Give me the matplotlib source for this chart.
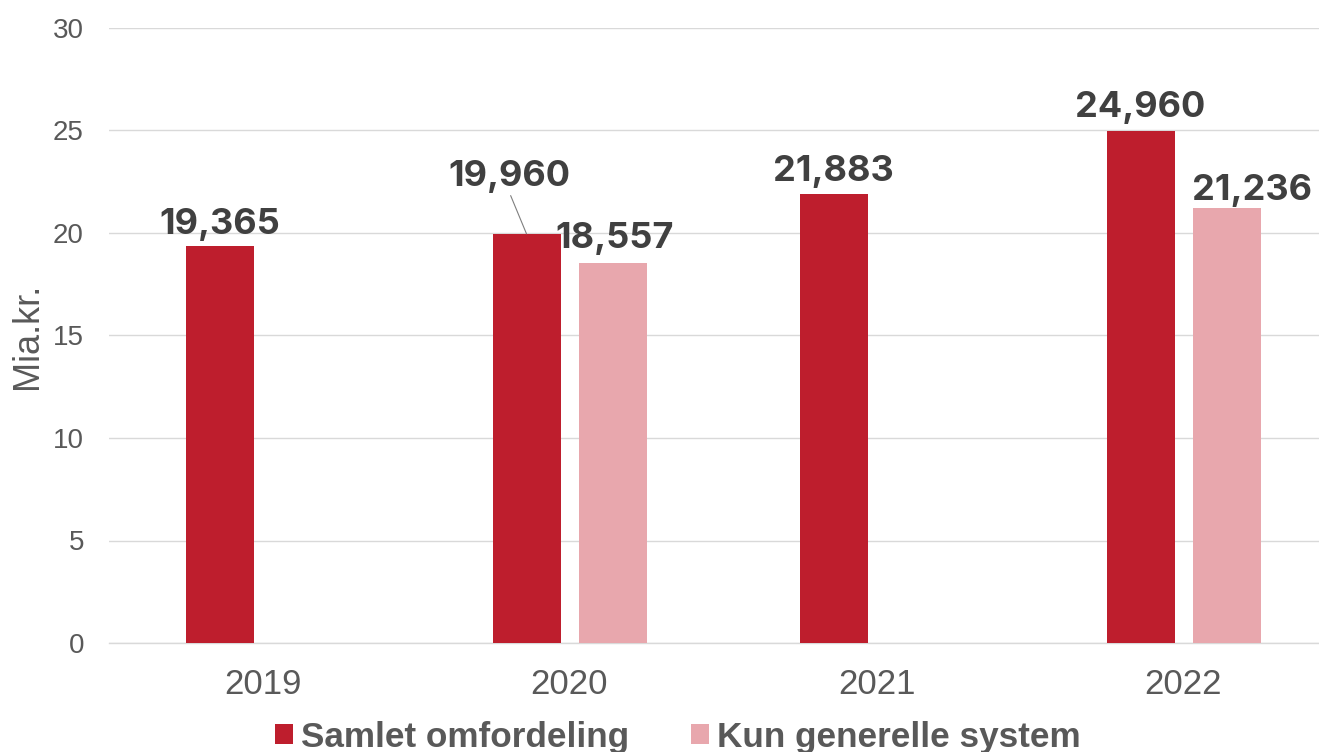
import matplotlib
matplotlib.use("Agg")
import matplotlib.pyplot as plt
import numpy as np

years = ["2019", "2020", "2021", "2022"]
samlet = [19.365, 19.960, 21.883, 24.960]
generelle = [None, 18.557, None, 21.236]
series_names = ["Samlet omfordeling", "Kun generelle system"]
yticks = [0, 5, 10, 15, 20, 25, 30]
ylabel = "Mia.kr."

RED = "#BE1E2D"
PINK = "#E8A7AD"
GRID = "#D9D9D9"
TXT = "#595959"
LBL = "#404040"

fig = plt.figure(figsize=(13.19, 7.52), dpi=100)
AX_W = 1228
ax = fig.add_axes([109/1319, 1-643/752, AX_W/1319, (643-28)/752])

x = np.arange(len(years))
cat = AX_W / 4
bw = 68/cat
off = (68+18)/2/cat

xs_r = x - off
bars_r = ax.bar(xs_r, samlet, width=bw, color=RED, label=series_names[0], zorder=3)
gx = [xi + off for xi, v in zip(x, generelle) if v is not None]
gv = [v for v in generelle if v is not None]
bars_p = ax.bar(gx, gv, width=bw, color=PINK, label=series_names[1], zorder=3)

def fmt(v):
    return f"{v:.3f}".replace(".", ",")

lab_font = dict(family=["Inter", "DejaVu Sans"], fontsize=26, fontweight="bold", color=LBL)

# label offsets in pixels (dx, dy) relative to bar top center
r_offsets = [(0, 12), (-17, 48), (0, 13), (0, 14)]
for xi, v, (dx, dy) in zip(xs_r, samlet, r_offsets):
    if dy > 30:
        ax.annotate(fmt(v), xy=(xi, v), xytext=(dx, dy), textcoords="offset pixels",
                    ha="center", va="baseline", zorder=5,
                    arrowprops=dict(arrowstyle="-", color="#7F7F7F", lw=0.8,
                                    shrinkA=0, shrinkB=0, relpos=(0.5, 0.0)), **lab_font)
    else:
        ax.annotate(fmt(v), xy=(xi, v), xytext=(dx, dy), textcoords="offset pixels",
                    ha="center", va="baseline", zorder=5, **lab_font)

p_offsets = [(2, 15), (25, 8)]
for xi, v, (dx, dy) in zip(gx, gv, p_offsets):
    ax.annotate(fmt(v), xy=(xi, v), xytext=(dx, dy), textcoords="offset pixels",
                ha="center", va="baseline", zorder=5, **lab_font)

ax.set_xlim(-0.5, 3.5)
ax.set_ylim(0, 30)
ax.set_yticks(yticks)
ax.set_xticks(x)
ax.set_xticklabels(years)
for lab in ax.get_xticklabels():
    lab.set_fontfamily(["Liberation Sans", "DejaVu Sans"])
    lab.set_fontsize(25)
    lab.set_color(TXT)
for lab in ax.get_yticklabels():
    lab.set_fontfamily(["Liberation Sans", "DejaVu Sans"])
    lab.set_fontsize(20)
    lab.set_color(TXT)
ax.tick_params(axis="both", length=0)
ax.tick_params(axis="y", pad=18)
ax.tick_params(axis="x", pad=18)
ax.grid(axis="y", color=GRID, lw=1, zorder=0)
for s in ["top", "right", "left"]:
    ax.spines[s].set_visible(False)
ax.spines["bottom"].set_color(GRID)
ax.spines["bottom"].set_linewidth(1)
ax.set_ylabel(ylabel, fontsize=26, color=TXT, family=["Liberation Sans", "DejaVu Sans"],
              va="center")
ax.yaxis.set_label_coords(-(109-28)/AX_W, (643-336)/615)

leg = fig.legend(handles=[bars_r, bars_p], labels=series_names, loc="center left",
                 bbox_to_anchor=(275/1319, 1-737/752), ncol=2, frameon=False, borderpad=0,
                 borderaxespad=0,
                 prop=dict(family=["Liberation Sans", "DejaVu Sans"], weight="bold", size=25.3),
                 handlelength=0.52, handleheight=0.52, handletextpad=0.22, columnspacing=1.75)
for t in leg.get_texts():
    t.set_color(TXT)

fig.savefig("out.png", dpi=100)
